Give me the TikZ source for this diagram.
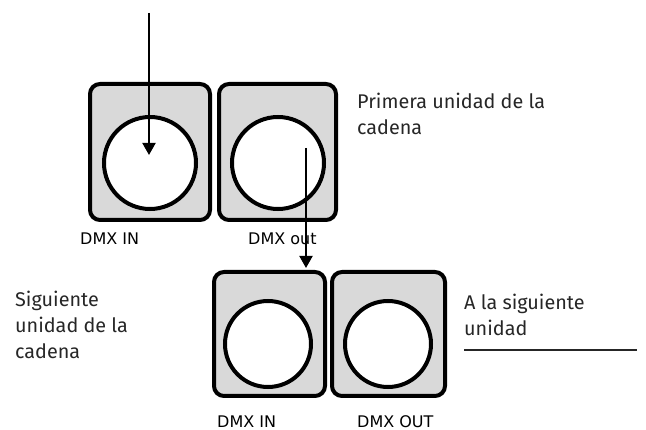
\documentclass[tikz,border=0pt]{standalone}
\usepackage{fontspec}
\setmainfont{Fira Sans}
\newfontfamily\dmxfont{DejaVu Sans}
\usetikzlibrary{arrows.meta}
\definecolor{boxgray}{HTML}{D9D9D9}
\begin{document}
\begin{tikzpicture}[x=1pt,y=-1pt,
  panel/.style={draw=black,fill=boxgray,line width=4pt,rounded corners=10pt,rectangle,inner sep=0pt},
  socket/.style={draw=black,fill=white,line width=4pt,circle,inner sep=0pt},
  dmxlabel/.style={font={\dmxfont\fontsize{16}{18}\selectfont},inner sep=0pt,anchor=base west},
  note/.style={font={\fontsize{19.8}{26}\selectfont},color=black!85,inner sep=0pt,anchor=base west,align=left},
  sig/.style={line width=2pt,-{Triangle[length=12pt,width=13pt]}}]
\useasboundingbox (0,0) rectangle (646,430);
% first unit
\node[panel,minimum width=120pt,minimum height=136pt] (b1) at (150,152) {};
\node[panel,minimum width=117pt,minimum height=136pt] (b2) at (277.5,152) {};
\node[socket,minimum size=92pt] (c1) at (150,163) {};
\node[socket,minimum size=92pt] (c2) at (278,163) {};
\node[dmxlabel] (l1) at (80,245) {DMX IN};
\node[dmxlabel] (l2) at (248,245) {DMX out};
\node[note] (t1) at (357,135) {Primera unidad de la\\cadena};
% second unit
\node[panel,minimum width=111pt,minimum height=124pt] (b3) at (269.5,334) {};
\node[panel,minimum width=113pt,minimum height=124pt] (b4) at (388.5,334) {};
\node[socket,minimum size=86pt] (c3) at (268,344) {};
\node[socket,minimum size=86pt] (c4) at (388,344) {};
\node[dmxlabel] (l3) at (217,427.5) {DMX IN};
\node[dmxlabel] (l4) at (357,427.5) {DMX OUT};
\node[note] (t2) at (15,359) {Siguiente\\unidad de la\\cadena};
\node[note] (t3) at (464,336) {A la siguiente\\unidad};
% connectors
\coordinate (src) at (149,13);
\coordinate (in1) at (149,155);
\coordinate (out1) at (306,148);
\coordinate (in2) at (306,268);
\coordinate (nxtA) at (464,350);
\coordinate (nxtB) at (637,350);
\draw[sig] (src) -- (in1);
\draw[sig] (out1) -- (in2);
\draw[line width=2pt,black!85] (nxtA) -- (nxtB);
\end{tikzpicture}
\end{document}
